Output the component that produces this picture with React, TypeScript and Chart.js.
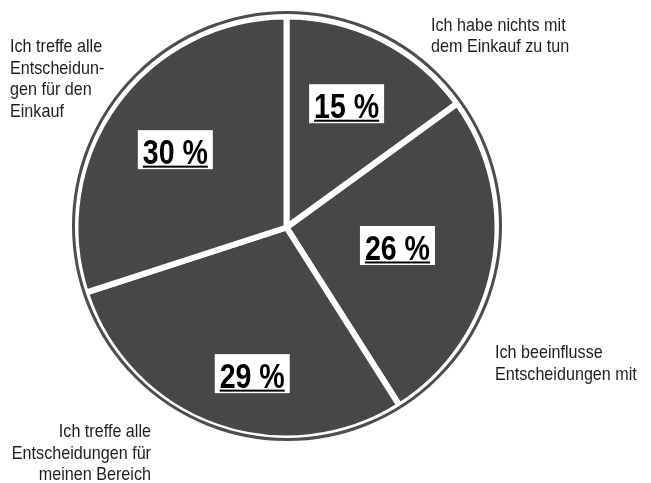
import React, { useEffect, useRef } from "react";
import { Chart, registerables } from "chart.js";

Chart.register(...registerables);

// ---- data ----
const categories = [
  "Ich habe nichts mit dem Einkauf zu tun",
  "Ich beeinflusse Entscheidungen mit",
  "Ich treffe alle Entscheidungen für meinen Bereich",
  "Ich treffe alle Entscheidungen für den Einkauf",
];
const shares = [15, 26, 29, 30];
const categoryLines = [
  ["Ich habe nichts mit", "dem Einkauf zu tun"],
  ["Ich beeinflusse", "Entscheidungen mit"],
  ["Ich treffe alle", "Entscheidungen für", "meinen Bereich"],
  ["Ich treffe alle", "Entscheidun-", "gen für den", "Einkauf"],
];

// ---- layout (not data) ----
const SLICE_COLOR = "#474747";
const RING_COLOR = "#4d4d4d";
const TEXT_COLOR = "#1e1e1e";
const FONT = '"Liberation Sans", Arial, sans-serif';
const NARROW_REG = 0.85;
const NARROW_BOLD = 0.815;
// percentage label placement: [angle offset from slice middle (deg), distance from centre (px)]
const pctPlacement = [
  [-1.1, 137.6],
  [-1.6, 112.4],
  [-6.6, 150.1],
  [-1.0, 135.7],
];
// outer text blocks: [x, first baseline, align]
const outerPlacement: [number, number, CanvasTextAlign][] = [
  [431, 30.5, "left"],
  [495, 358.3, "left"],
  [151, 436.7, "right"],
  [10, 51.7, "left"],
];
const LINE_H = 21.8;

function drawNarrow(
  ctx: CanvasRenderingContext2D,
  text: string,
  x: number,
  y: number,
  align: CanvasTextAlign,
  sx: number
) {
  ctx.save();
  ctx.translate(x, y);
  ctx.scale(sx, 1);
  ctx.textAlign = align;
  ctx.textBaseline = "alphabetic";
  ctx.fillText(text, 0, 0);
  ctx.restore();
}

const labelPlugin = {
  id: "labelPlugin",
  afterDatasetsDraw(chart: any) {
    const ctx: CanvasRenderingContext2D = chart.ctx;
    const meta = chart.getDatasetMeta(0);
    const first = meta.data[0];
    const cx = first.x;
    const cy = first.y;
    const R = first.outerRadius;

    // outer ring
    ctx.save();
    ctx.beginPath();
    ctx.arc(cx + 0.5, cy - 1.5, R + 2.5, 0, Math.PI * 2);
    ctx.strokeStyle = RING_COLOR;
    ctx.lineWidth = 3;
    ctx.stroke();
    ctx.restore();

    // percentage labels
    meta.data.forEach((arc: any, i: number) => {
      const mid = (arc.startAngle + arc.endAngle) / 2 + (pctPlacement[i][0] * Math.PI) / 180;
      const d = pctPlacement[i][1];
      const px = cx + d * Math.cos(mid);
      const py = cy + d * Math.sin(mid);
      const text = shares[i] + " %";
      ctx.save();
      ctx.font = `bold 35px ${FONT}`;
      const w = ctx.measureText(text).width * NARROW_BOLD;
      const baseline = py + 14.5;
      ctx.fillStyle = "#ffffff";
      ctx.fillRect(px - w / 2 - 5, baseline - 34, w + 10, 39);
      ctx.fillStyle = "#000000";
      drawNarrow(ctx, text, px - w / 2, baseline, "left", NARROW_BOLD);
      ctx.fillRect(px - w / 2, baseline + 1.5, w, 2);
      ctx.restore();
    });

    // outer category texts
    categoryLines.forEach((lines, i) => {
      const [x, y0, align] = outerPlacement[i];
      ctx.save();
      ctx.font = `19px ${FONT}`;
      ctx.fillStyle = TEXT_COLOR;
      lines.forEach((ln, j) => drawNarrow(ctx, ln, x, y0 + j * LINE_H, align, NARROW_REG));
      ctx.restore();
    });
  },
};

export default function App() {
  const ref = useRef<HTMLCanvasElement>(null);
  useEffect(() => {
    document.body.style.margin = "0";
    const chart = new Chart(ref.current!, {
      type: "pie",
      data: {
        labels: categories,
        datasets: [
          {
            data: shares,
            backgroundColor: SLICE_COLOR,
            borderColor: "#ffffff",
            borderWidth: 6,
            hoverOffset: 0,
          },
        ],
      },
      options: {
        responsive: false,
        animation: false,
        radius: 211,
        layout: { padding: { left: 0, right: 78, top: 0, bottom: 28 } },
        events: [],
        plugins: {
          legend: { display: false },
          tooltip: { enabled: false },
        },
      },
      plugins: [labelPlugin],
    });
    return () => chart.destroy();
  }, []);
  return (
    <div style={{ position: "absolute", left: 0, top: 0, width: 651, height: 483, background: "#fff" }}>
      <canvas ref={ref} width={651} height={483} />
    </div>
  );
}
